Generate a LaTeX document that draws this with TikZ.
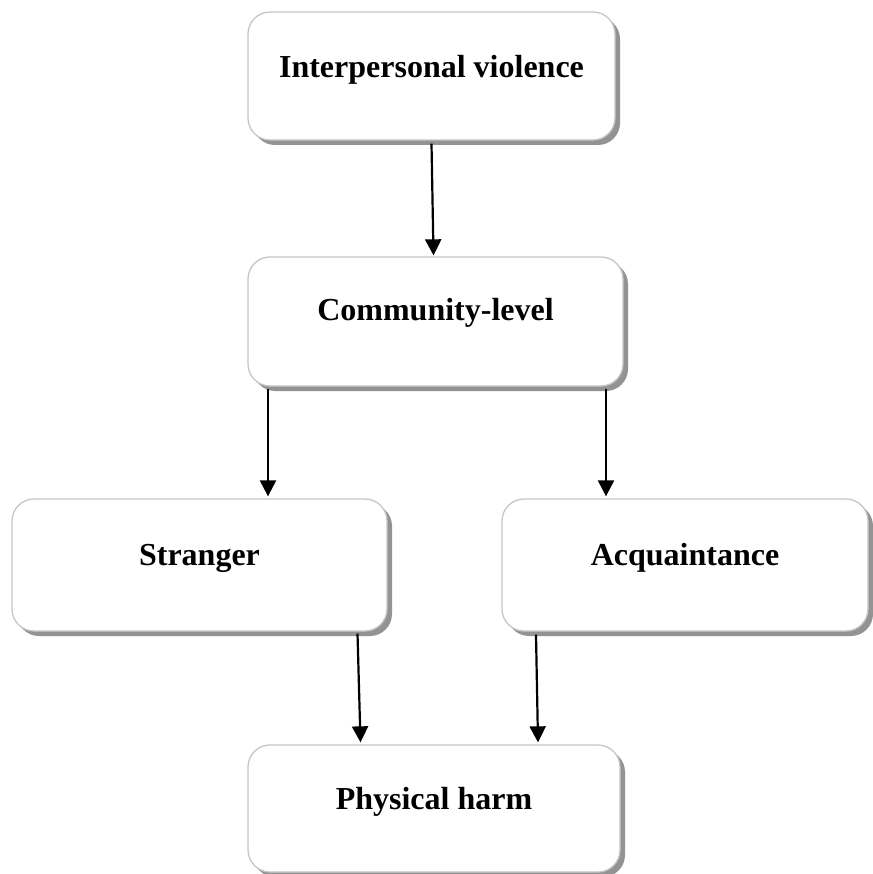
\documentclass[tikz,border=0pt]{standalone}
\usepackage{fontspec}
\setmainfont{Liberation Serif}
\usetikzlibrary{shadows,arrows.meta}

\begin{document}
\begin{tikzpicture}[x=1pt, y=-1pt,
    box/.style={draw=gray!45, line width=1.3pt, fill=white, rounded corners=22pt,
        drop shadow={shadow xshift=5pt, shadow yshift=-5pt, fill=gray!85, opacity=1},
        font=\fontsize{32}{38}\selectfont\bfseries, inner sep=0pt,
        text height=22pt, text depth=22pt},
    arr/.style={-{Triangle[width=16pt,length=16pt]}, line width=2.2pt, black}]
    \useasboundingbox (0,0) rectangle (872,874);

    % boxes
    \node[box, minimum width=367pt, minimum height=128pt, text depth=19pt] (violence) at (431.5,76) {Interpersonal violence};
    \node[box, minimum width=375pt, minimum height=129pt, text depth=24pt] (community) at (435.5,321.5) {Community-level};
    \node[box, minimum width=375pt, minimum height=132pt] (stranger) at (199.5,565) {Stranger};
    \node[box, minimum width=366pt, minimum height=132pt] (acquaint) at (685,565) {Acquaintance};
    \node[box, minimum width=372pt, minimum height=127pt, text depth=20pt] (harm) at (434,808.5) {Physical harm};

    % arrows
    \draw[arr] ([xshift=0pt, yshift=-3pt]violence.south) -- ([xshift=2pt, yshift=1pt]violence.south |- community.north);
    \draw[arr] ([xshift=-167.5pt, yshift=-2pt]community.south) -- ([xshift=-167.5pt, yshift=2pt]community.south |- stranger.north);
    \draw[arr] ([xshift=170.5pt, yshift=-2pt]community.south) -- ([xshift=170.5pt, yshift=2pt]community.south |- acquaint.north);
    \draw[arr] ([xshift=158pt, yshift=-2pt]stranger.south) -- ([xshift=161pt, yshift=2pt]stranger.south |- harm.north);
    \draw[arr] ([xshift=-149pt, yshift=-3pt]acquaint.south) -- ([xshift=-147pt, yshift=2pt]acquaint.south |- harm.north);
\end{tikzpicture}
\end{document}
